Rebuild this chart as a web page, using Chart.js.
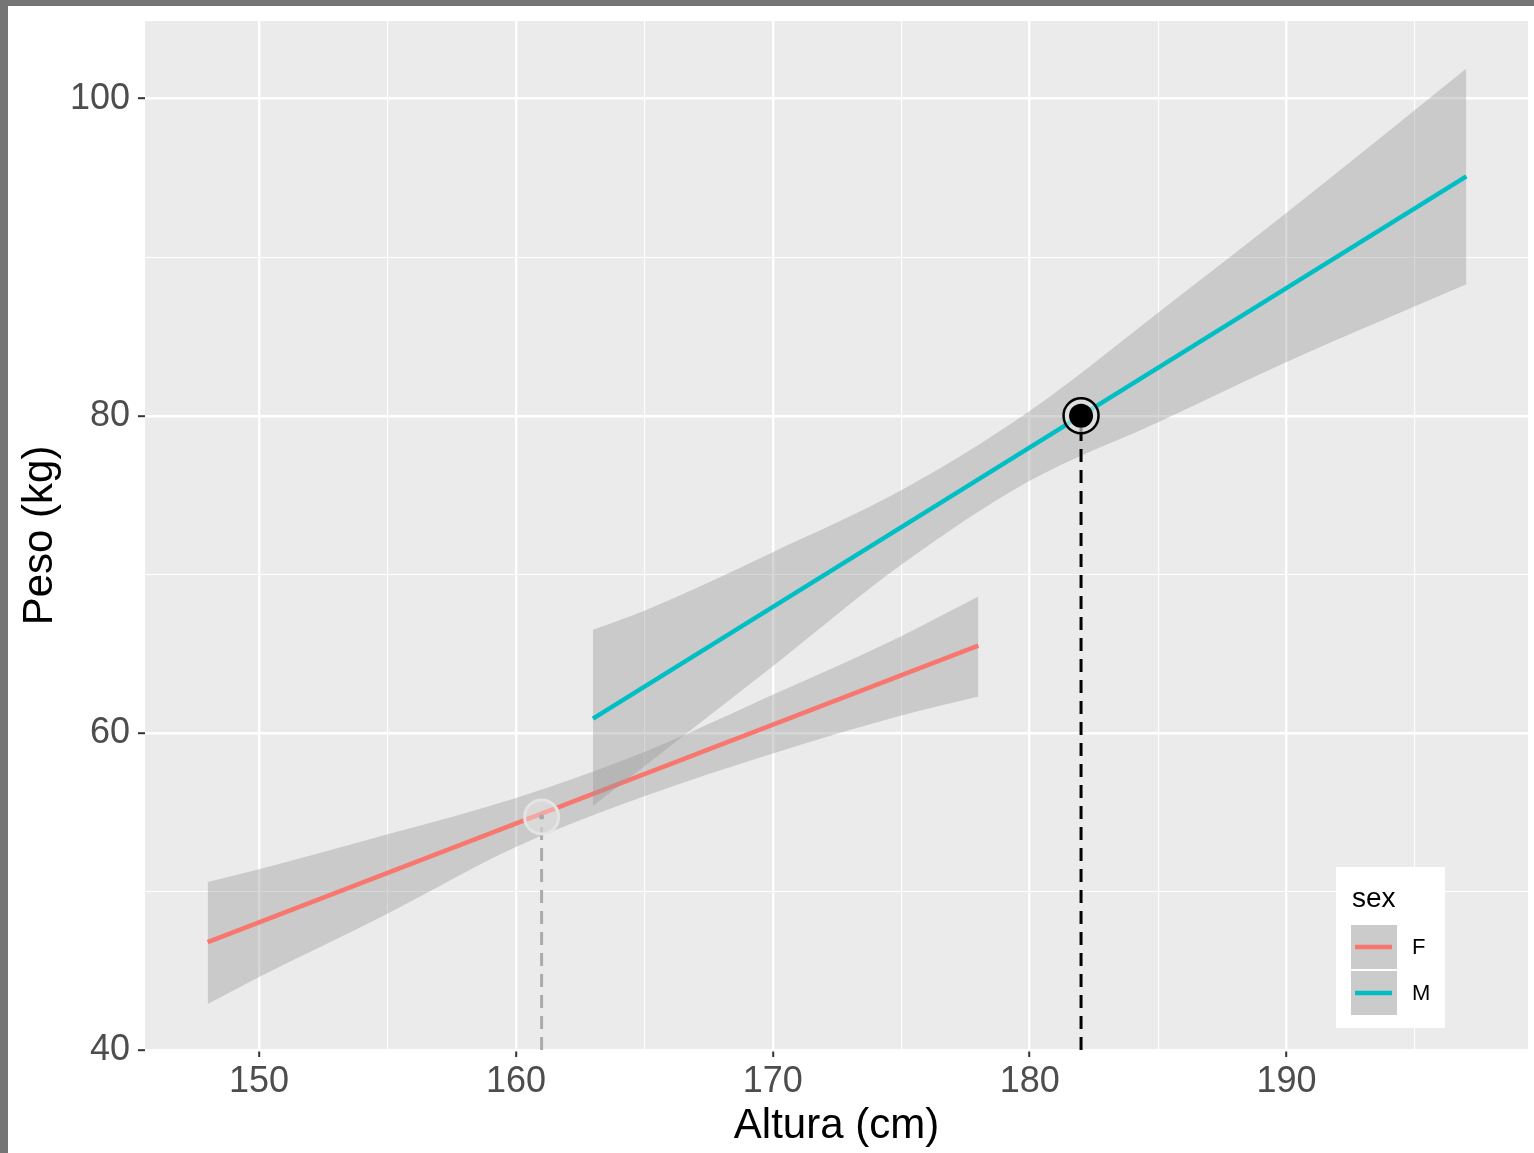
<!DOCTYPE html>
<html>
<head>
<meta charset="utf-8">
<script src="https://cdn.jsdelivr.net/npm/chart.js"></script>
<style>
  html, body { margin: 0; padding: 0; background: #757575; }
  #wrap { position: absolute; left: 8px; top: 6px; width: 1526px; height: 1147px; background: #fff; }
  canvas { display: block; }
</style>
</head>
<body>
<div id="wrap"><canvas id="chart" width="1526" height="1147"></canvas></div>
<script>
// fitted line (lm) per sex
const fLineX = [148, 178];
const fLineY = [46.8, 65.5];
const mLineX = [163, 197];
const mLineY = [60.9, 95.1];

// confidence bands
const fBandX = [148, 150, 155, 160, 165, 170, 175, 178];
const fUpper = [50.6, 51.4, 53.6, 55.9, 58.8, 62.4, 66.1, 68.6];
const fLower = [42.9, 44.6, 48.6, 52.8, 56.0, 58.7, 61.1, 62.3];

const mBandX = [163, 165, 170, 175, 180, 185, 190, 197];
const mUpper = [66.5, 67.7, 71.4, 75.3, 80.3, 86.5, 92.8, 101.9];
const mLower = [55.4, 57.9, 64.2, 70.6, 75.9, 79.6, 83.4, 88.3];

// highlighted observations
const greyPoint = { x: 161, y: 54.7 };
const blackPoint = { x: 182, y: 80.0 };

// axes
const xTicks = [150, 155, 160, 165, 170, 175, 180, 185, 190, 195];
const xMajor = [150, 160, 170, 180, 190];
const yTicks = [40, 50, 60, 70, 80, 90, 100];
const yMajor = [40, 60, 80, 100];

const FONT = "'Liberation Sans', Arial, Helvetica, sans-serif";
const RED = '#F8766D';
const TEAL = '#00BFC4';
const BAND = 'rgba(153,153,153,0.4)';

const toXY = (xs, ys) => xs.map((x, i) => ({ x: x, y: ys[i] }));

const panelBg = {
  id: 'panelBg',
  beforeDraw(chart) {
    const { ctx, chartArea: a } = chart;
    ctx.save();
    ctx.fillStyle = '#EBEBEB';
    ctx.fillRect(a.left, a.top, a.right - a.left, a.bottom - a.top);
    ctx.restore();
  }
};

const ggLegend = {
  id: 'ggLegend',
  afterDraw(chart) {
    const { ctx, chartArea: a } = chart;
    const bx = a.right - 192, by = a.bottom - 183;
    ctx.save();
    ctx.fillStyle = '#fff';
    ctx.fillRect(bx, by, 109, 161);
    ctx.fillStyle = '#000';
    ctx.font = '28px ' + FONT;
    ctx.textBaseline = 'alphabetic';
    ctx.fillText('sex', bx + 16, by + 40);
    const keys = [['F', RED], ['M', TEAL]];
    keys.forEach((k, i) => {
      const ky = by + 58 + i * 46;
      ctx.fillStyle = '#CBCBCB';
      ctx.fillRect(bx + 15, ky, 46, 44);
      ctx.strokeStyle = k[1];
      ctx.lineWidth = 4.5;
      ctx.beginPath();
      ctx.moveTo(bx + 19, ky + 22);
      ctx.lineTo(bx + 56, ky + 22);
      ctx.stroke();
      ctx.fillStyle = '#000';
      ctx.font = '22px ' + FONT;
      ctx.textBaseline = 'middle';
      ctx.fillText(k[0], bx + 76, ky + 23);
    });
    ctx.restore();
  }
};

const bandStyle = { borderWidth: 0, pointRadius: 0, backgroundColor: BAND, cubicInterpolationMode: 'monotone' };

const noEdgePadding = s => {
  s.paddingTop = 0; s.paddingBottom = 0; s.paddingLeft = 0; s.paddingRight = 0;
};

new Chart(document.getElementById('chart').getContext('2d'), {
  type: 'line',
  data: {
    datasets: [
      { data: toXY(fBandX, fLower), fill: false, ...bandStyle, order: 10 },
      { data: toXY(fBandX, fUpper), fill: '-1', ...bandStyle, order: 9 },
      { data: toXY(fLineX, fLineY), borderColor: RED, borderWidth: 4.5, pointRadius: 0, order: 8 },
      { data: toXY(mBandX, mLower), fill: false, ...bandStyle, order: 7.5 },
      { data: toXY(mBandX, mUpper), fill: '-1', ...bandStyle, order: 7 },
      { data: toXY(mLineX, mLineY), borderColor: TEAL, borderWidth: 4.5, pointRadius: 0, order: 6 },
      // dashed drop lines
      { data: [{ x: greyPoint.x, y: 40 }, greyPoint], borderColor: '#ABABAB', borderWidth: 3,
        borderDash: [13, 8], pointRadius: 0, order: 5 },
      { data: [{ x: blackPoint.x, y: 40 }, blackPoint], borderColor: '#000', borderWidth: 3,
        borderDash: [13, 8], pointRadius: 0, order: 5 },
      // grey highlighted point
      { data: [greyPoint], showLine: false, pointRadius: 17, pointBorderWidth: 3,
        pointBorderColor: '#E4E4E4', pointBackgroundColor: 'rgba(240,240,240,0.4)', order: 4 },
      { data: [greyPoint], showLine: false, pointRadius: 2.5, pointBorderWidth: 0,
        pointBackgroundColor: '#A9A9A9', order: 3 },
      // black highlighted point
      { data: [blackPoint], showLine: false, pointRadius: 17.5, pointBorderWidth: 2.5,
        pointBorderColor: '#000', pointBackgroundColor: 'rgba(235,235,235,0.6)', order: 2 },
      { data: [blackPoint], showLine: false, pointRadius: 12, pointBorderWidth: 0,
        pointBackgroundColor: '#000', order: 1 }
    ]
  },
  options: {
    responsive: false,
    animation: false,
    layout: { autoPadding: false, padding: { top: 15, right: 6, left: 0, bottom: 0 } },
    plugins: { legend: { display: false }, tooltip: { enabled: false } },
    scales: {
      x: {
        type: 'linear',
        min: 145.56,
        max: 199.4,
        afterBuildTicks: s => { s.ticks = xTicks.map(v => ({ value: v })); },
        afterFit: s => { s.height = 103; noEdgePadding(s); },
        border: { display: false },
        grid: {
          color: '#fff',
          lineWidth: c => (xMajor.includes(c.tick && c.tick.value) ? 2.4 : 1.1),
          tickLength: 7,
          tickWidth: 2,
          tickColor: c => (xMajor.includes(c.tick && c.tick.value) ? '#333' : 'rgba(0,0,0,0)')
        },
        ticks: {
          color: '#4D4D4D',
          font: { family: FONT, size: 36 },
          padding: 3,
          maxRotation: 0,
          autoSkip: false,
          callback: v => (xMajor.includes(v) ? v : '')
        },
        title: {
          display: true,
          text: 'Altura (cm)',
          color: '#000',
          font: { family: FONT, size: 42 },
          padding: { top: 0, bottom: 1 }
        }
      },
      y: {
        min: 40,
        max: 104.9,
        afterBuildTicks: s => { s.ticks = yTicks.map(v => ({ value: v })); },
        afterFit: s => { s.width = 137; noEdgePadding(s); },
        border: { display: false },
        grid: {
          color: '#fff',
          lineWidth: c => (yMajor.includes(c.tick && c.tick.value) ? 2.4 : 1.1),
          tickLength: 7,
          tickWidth: 2,
          tickColor: c => (yMajor.includes(c.tick && c.tick.value) ? '#333' : 'rgba(0,0,0,0)')
        },
        ticks: {
          color: '#4D4D4D',
          font: { family: FONT, size: 36 },
          padding: 8,
          callback: v => (yMajor.includes(v) ? v : '')
        },
        title: {
          display: true,
          text: 'Peso (kg)',
          color: '#000',
          font: { family: FONT, size: 42 },
          padding: { top: 7, bottom: 0 }
        }
      }
    }
  },
  plugins: [panelBg, ggLegend]
});
</script>
</body>
</html>
